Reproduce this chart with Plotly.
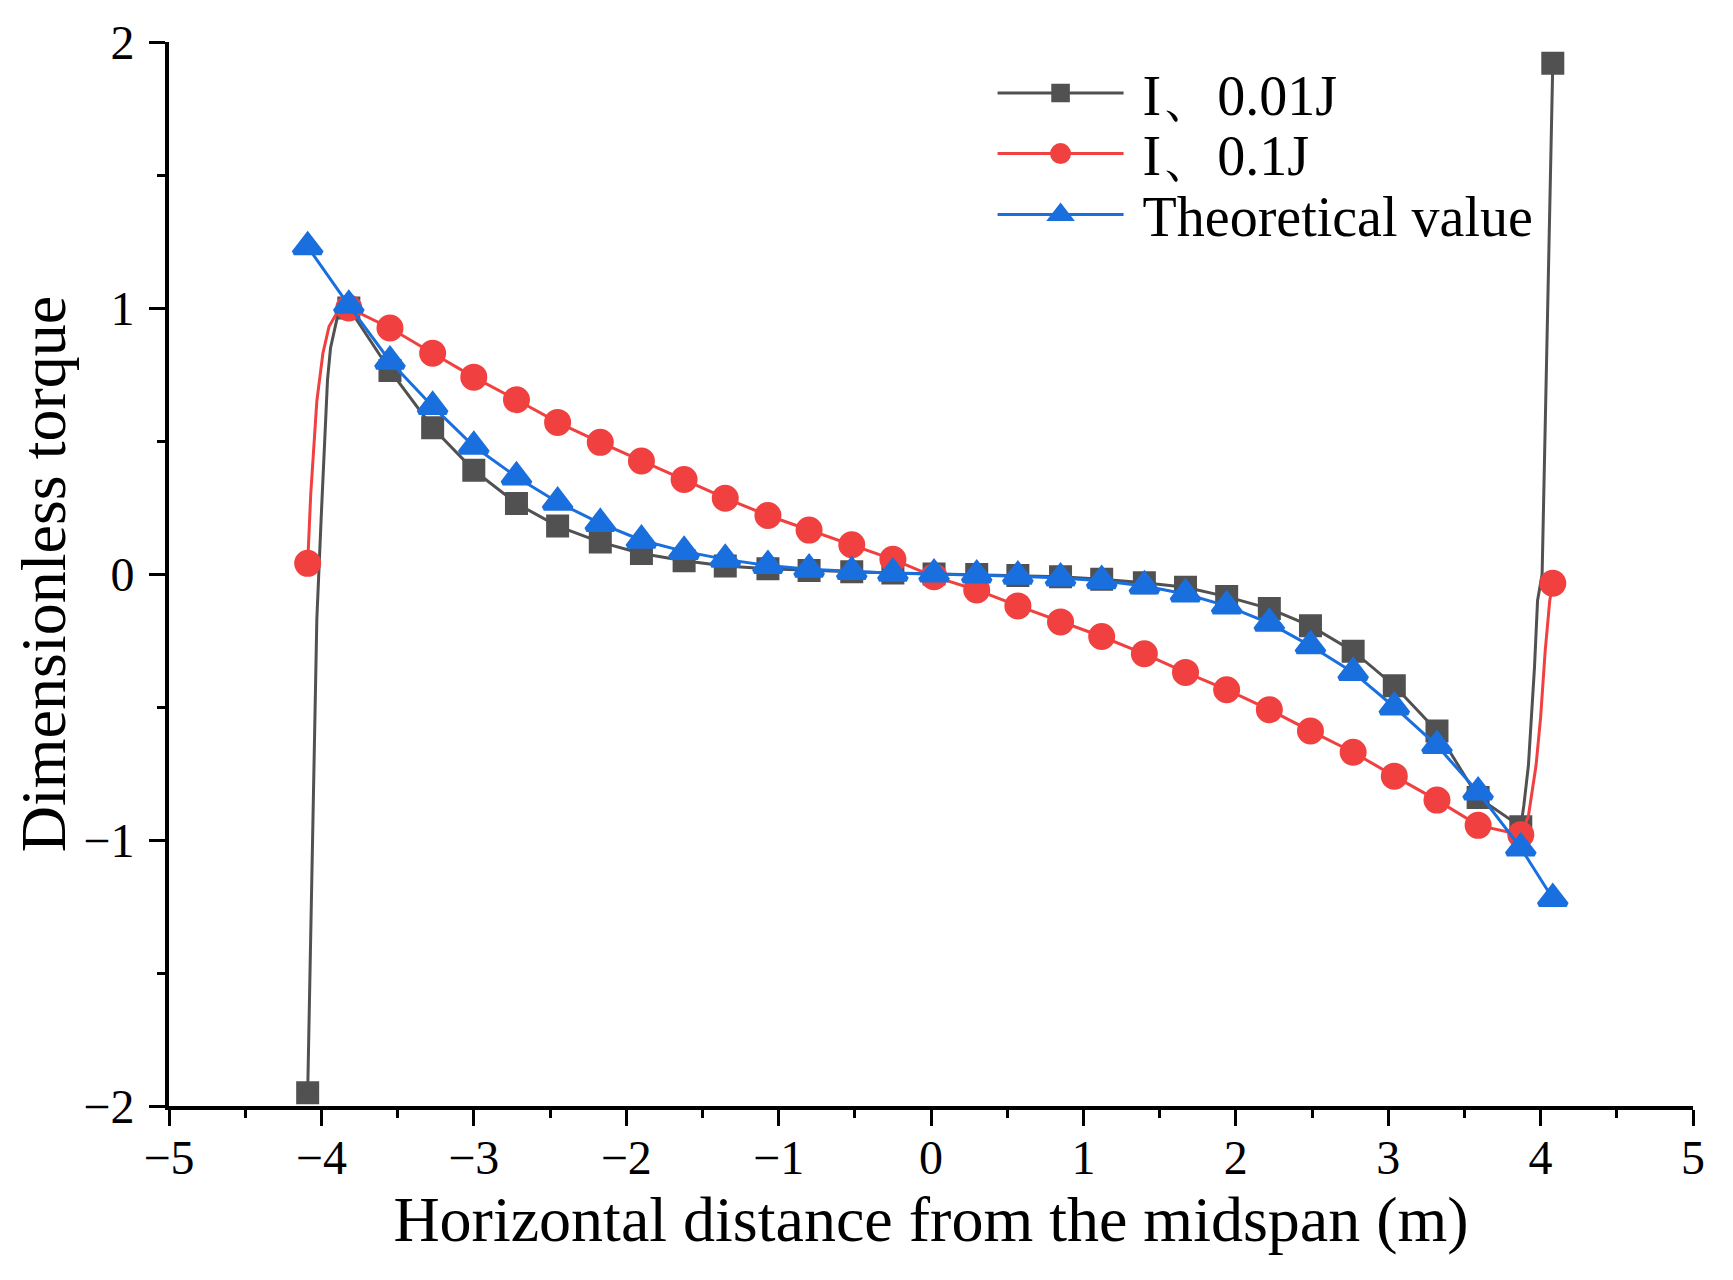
#plot.py
#Dimensionless torque along the span: two test cases against the theoretical curve
import plotly.graph_objects as go

#positions of the plotted points [m]
xPts = [-4.09, -3.82, -3.55, -3.27, -3.00, -2.72, -2.45, -2.17, -1.90, -1.62, -1.35,
        -1.07, -0.80, -0.52, -0.25, 0.02, 0.30, 0.57, 0.85, 1.12, 1.40,
        1.67, 1.94, 2.22, 2.49, 2.77, 3.04, 3.32, 3.59, 3.87, 4.08]

#I, 0.01J
torque001 = [-1.95, 1.00, 0.765, 0.55, 0.39, 0.265, 0.18, 0.12, 0.077, 0.05, 0.03,
             0.02, 0.013, 0.008, 0.004, 0.0, -0.002, -0.006, -0.01, -0.02, -0.033,
             -0.05, -0.085, -0.13, -0.195, -0.29, -0.42, -0.59, -0.84, -0.95, 1.92]
#I, 0.1J
torque01 = [0.04, 1.00, 0.925, 0.83, 0.74, 0.655, 0.57, 0.495, 0.425, 0.355, 0.285,
            0.22, 0.165, 0.11, 0.055, -0.01, -0.06, -0.12, -0.18, -0.235, -0.30,
            -0.37, -0.435, -0.51, -0.59, -0.67, -0.76, -0.85, -0.945, -0.98, -0.035]
#theoretical value
torqueTh = [1.23, 1.01, 0.80, 0.63, 0.48, 0.365, 0.27, 0.19, 0.127, 0.085, 0.055,
            0.032, 0.018, 0.009, 0.003, 0.0, -0.004, -0.008, -0.015, -0.025, -0.045,
            -0.075, -0.12, -0.185, -0.27, -0.37, -0.50, -0.645, -0.82, -1.03, -1.22]

#the curves bend through extra (unmarked) points near the supports
xEndL001 = [-4.03, -4.00, -3.96, -3.94, -3.89]
yEndL001 = [-0.17, 0.23, 0.73, 0.85, 0.98]
xEndR001 = [3.89, 3.92, 3.96, 3.98, 4.01]
yEndR001 = [-0.87, -0.72, -0.35, -0.10, 0.0]
xEndL01 = [-4.07, -4.03, -3.99, -3.95, -3.90]
yEndL01 = [0.30, 0.65, 0.83, 0.93, 0.98]
xEndR01 = [3.92, 3.97, 4.00, 4.03, 4.06]
yEndR01 = [-0.91, -0.72, -0.54, -0.29, -0.10]

names = ['I、0.01J', 'I、0.1J', 'Theoretical value']
colors = ['#515151', '#F14040', '#1A6FDF']
symbols = ['square', 'circle', 'triangle-up']
#symbol size without the 5px outline (outline keeps the legend symbols big too)
msizes = [18, 22, 24]

fnt = 'Liberation Serif, Times New Roman, serif'

def curve(y, xl, yl, xr, yr, ms):
    #join the marked points with the unmarked end points (size 0 -> no symbol)
    cx = xPts[:1] + xl + xPts[1:-1] + xr + xPts[-1:]
    cy = y[:1] + yl + y[1:-1] + yr + y[-1:]
    cs = [ms] + [0]*len(xl) + [ms]*(len(xPts)-2) + [0]*len(xr) + [ms]
    return cx, cy, cs

series = [
    curve(torque001, xEndL001, yEndL001, xEndR001, yEndR001, msizes[0]),
    curve(torque01, xEndL01, yEndL01, xEndR01, yEndR01, msizes[1]),
    curve(torqueTh, [], [], [], [], msizes[2]),
]

legs = ['legend', 'legend2', 'legend3']
fig = go.Figure()
for i, (cx, cy, cs) in enumerate(series):
    fig.add_trace(go.Scatter(x=cx, y=cy, mode='lines+markers', name='\u00a0' + names[i],
                             legend=legs[i],
                             line=dict(color=colors[i], width=3),
                             marker=dict(symbol=symbols[i], size=cs, color=colors[i], opacity=1,
                                         line=dict(width=5, color=colors[i]))))

axStyle = dict(showline=True, linecolor='black', linewidth=4, mirror=False, automargin=False,
               ticks='outside', ticklen=16, tickwidth=3, tickcolor='black',
               showgrid=False, zeroline=False,
               tickfont=dict(family=fnt, size=48, color='black'),
               minor=dict(ticks='outside', ticklen=8, tickwidth=3, tickcolor='black', dtick=0.5))

fig.update_xaxes(range=[-5, 5], dtick=1, tick0=0, ticklabelstandoff=-10, **axStyle,
                 title=dict(text='Horizontal distance from the midspan (m)', standoff=10,
                            font=dict(family=fnt, size=64, color='black')))
fig.update_yaxes(range=[-2, 2], dtick=1, tick0=0, ticklabelstandoff=5, **axStyle,
                 title=dict(text='Dimensionless torque', standoff=12,
                            font=dict(family=fnt, size=64, color='black')))

#one legend per row so the row spacing can follow the original
legY = [0.9520, 0.8950, 0.8378]
legStyle = dict(x=0.5404, xanchor='left', yanchor='middle', bgcolor='rgba(0,0,0,0)',
                itemwidth=126, font=dict(family=fnt, size=56, color='black'))

fig.update_layout(width=1717, height=1264, plot_bgcolor='white', paper_bgcolor='white',
                  margin=dict(l=161, r=32, t=34, b=166, autoexpand=False),
                  showlegend=True,
                  legend=dict(y=legY[0], **legStyle),
                  legend2=dict(y=legY[1], **legStyle),
                  legend3=dict(y=legY[2], **legStyle))

fig.write_html("out.html")
